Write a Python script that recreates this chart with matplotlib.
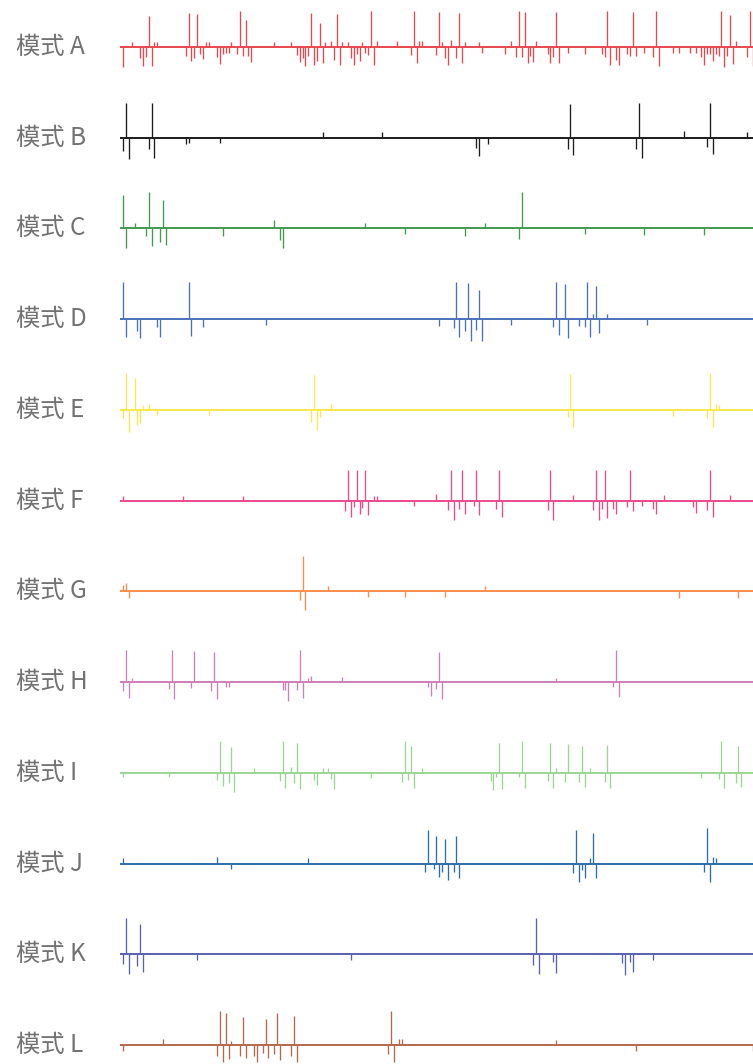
import matplotlib
matplotlib.use("Agg")
import matplotlib.pyplot as plt

plt.rcParams["font.family"] = ["Noto Sans CJK SC", "DejaVu Sans"]

# 每个模式: (时间步, 幅值)，正值向上，负值向下
A = [(0, -60), (3, 16), (6, -35), (7, -58), (8, -29), (9, 96), (10, -58), (11, 16), (12, 16),
     (22, -28), (23, 104), (24, -44), (25, -35), (26, 101), (27, -20), (28, -38), (29, 16), (30, 16),
     (33, -30), (34, -53), (35, -20), (36, -17), (37, -17), (38, 16), (40, -22), (41, 110), (42, -27),
     (43, 83), (44, -28), (45, -45), (53, 16), (59, 16), (61, -25), (62, -47), (63, -35), (64, -57),
     (65, -26), (66, 104), (67, -54), (68, -42), (69, 74), (70, -50), (71, 16), (73, 18), (74, -39),
     (75, 101), (76, -55), (77, 16), (79, 16), (80, -34), (81, -56), (82, -22), (83, -44), (84, 16),
     (85, -17), (86, -25), (87, 110), (88, -56), (89, 18), (96, 18), (101, -25), (102, 110), (103, -50),
     (104, 18), (105, 18), (110, -25), (111, 107), (112, 16), (113, -33), (114, -55), (115, 21),
     (117, -35), (118, 104), (119, -48), (120, 16), (125, 16), (126, -17), (134, -22), (136, 18),
     (138, -32), (139, 110), (140, -30), (141, 107), (142, -50), (143, -27), (144, -47), (145, 18),
     (149, -22), (150, -50), (151, -32), (152, 107), (153, -48), (156, -17), (162, -22), (168, -20),
     (169, -32), (170, 110), (171, -56), (173, -40), (174, -56), (177, -20), (178, -27), (179, 107),
     (180, -27), (183, -17), (186, -30), (187, 110), (188, -58), (193, -17), (195, -17), (199, -17),
     (201, -17), (203, -32), (204, -55), (205, -20), (206, -20), (207, -44), (208, -20), (209, -27),
     (210, 110), (211, -62), (212, -27), (213, 99), (214, -52), (215, 18), (219, -32), (220, 110),
     (221, -58)]
B = [(0, -41), (1, 107), (2, -66), (9, -35), (10, 107), (11, -62), (22, -19), (23, -17), (34, -17),
     (70, 16), (91, 16), (124, -32), (125, -57), (128, -19), (156, -35), (157, 104), (158, -54),
     (180, -35), (181, 107), (182, -62), (197, 21), (205, -29), (206, 107), (207, -51), (219, 18)]
C = [(0, 101), (1, -59), (4, 16), (8, -24), (9, 110), (10, -53), (13, -41), (14, 86), (15, -51),
     (35, -24), (53, 27), (55, -36), (56, -61), (85, 16), (99, -17), (120, -23), (127, 16),
     (139, -33), (140, 110), (162, -17), (183, -20), (204, -20)]
D = [(0, 114), (1, -53), (5, -37), (6, -58), (12, -23), (13, -53), (23, 114), (24, -50), (28, -23),
     (50, -18), (111, -21), (116, -27), (117, 114), (118, -53), (120, -35), (121, 111), (122, -65),
     (124, -33), (125, 89), (126, -65), (136, -18), (151, -23), (152, 114), (153, -47), (155, 108),
     (156, -58), (160, -21), (162, -23), (163, 114), (164, -55), (165, 17), (166, 102), (167, -41),
     (170, 15), (184, -18)]
E = [(0, -24), (1, 114), (2, -66), (4, 96), (5, -46), (6, -41), (7, 16), (9, 19), (12, -16),
     (30, -16), (66, -36), (67, 108), (68, -60), (69, -22), (73, 19), (156, -22), (157, 111),
     (158, -52), (193, -20), (205, -24), (206, 114), (207, -52), (208, 18), (209, 16)]
F = [(0, 13), (21, 13), (42, 13), (78, -33), (79, 95), (80, -51), (81, -18), (82, 95), (83, -41),
     (84, -21), (85, 95), (86, -43), (88, 13), (89, 13), (102, -15), (110, 19), (114, -29), (115, 95),
     (116, -58), (118, -24), (119, 95), (120, -41), (123, -17), (124, 95), (125, -43), (131, -24),
     (132, 95), (133, -51), (149, -27), (150, 95), (151, -58), (158, 17), (165, -29), (166, 95),
     (167, -58), (168, -24), (169, 95), (170, -53), (172, -24), (173, -41), (177, -20), (178, 95),
     (179, -33), (182, -15), (186, -24), (187, -41), (190, 17), (200, -20), (201, -39), (205, -27),
     (206, 95), (207, -51), (213, 17)]
G = [(0, 19), (1, 25), (2, -19), (62, -27), (63, 109), (64, -58), (72, 15), (86, -16), (99, -16),
     (113, -16), (127, 15), (195, -19), (216, -19)]
H = [(0, -27), (1, 97), (2, -48), (3, 14), (16, -22), (17, 97), (18, -51), (24, -19), (25, 94),
     (31, -27), (32, 92), (33, -53), (36, -14), (37, -16), (56, -25), (57, -25), (58, -58), (61, -24),
     (62, 97), (63, -48), (65, 14), (66, 18), (77, 16), (107, -16), (108, -43), (110, -22), (111, 92),
     (112, -51), (152, 14), (172, -16), (173, 97), (174, -46)]
I = [(0, -14), (16, -14), (33, -22), (34, 97), (35, -40), (37, -30), (38, 78), (39, -58), (46, 14),
     (55, -24), (56, 97), (57, -45), (59, 18), (60, -30), (61, 90), (62, -48), (67, -22), (68, -37),
     (70, 14), (72, 14), (73, -19), (74, -50), (87, -17), (98, -27), (99, 97), (100, -22), (101, 81),
     (102, -45), (105, 16), (129, -24), (130, -53), (131, -14), (132, 92), (133, -48), (139, -14),
     (140, 97), (141, -45), (149, -24), (150, 92), (151, -45), (152, 14), (155, -27), (156, 87),
     (160, -29), (161, 81), (162, -43), (164, 16), (169, -29), (170, 85), (171, -45), (203, -17),
     (209, -19), (210, 97), (211, -45), (215, -30), (216, 81), (217, -43)]
J = [(0, 16), (33, 19), (38, -17), (65, 16), (106, -25), (107, 102), (109, -17), (110, 85), (111, -42),
     (112, -25), (113, 74), (114, -50), (116, -25), (117, 83), (118, -45), (158, -30), (159, 102),
     (160, -56), (161, -20), (162, -45), (164, 16), (165, 94), (166, -45), (204, -25), (205, 110),
     (206, -56), (207, 19), (208, 16)]
K = [(0, -31), (1, 110), (2, -59), (5, -37), (6, 91), (7, -54), (26, -18), (80, -16), (144, -32),
     (145, 110), (146, -59), (151, -25), (152, -57), (175, -27), (176, -64), (178, -25), (179, -54),
     (186, -16)]
L = [(0, -18), (14, 17), (33, -33), (34, 104), (35, -53), (36, 97), (37, -43), (38, 12), (41, -33),
     (42, 85), (43, -41), (46, -33), (47, -53), (49, -23), (50, 80), (51, -41), (53, -26), (54, 98),
     (55, -47), (59, -33), (60, 88), (61, -53), (93, -26), (94, 104), (95, -53), (97, 19), (98, 17),
     (152, 14), (180, -18), (221, -18)]

names = ["A", "B", "C", "D", "E", "F", "G", "H", "I", "J", "K", "L"]
series = [A, B, C, D, E, F, G, H, I, J, K, L]
colors = ["#e8474e", "#1c1c1c", "#419a50", "#4a72b8", "#f6e94a", "#ea4a8c",
          "#fa8d4c", "#cc80b9", "#9bd593", "#2f6da8", "#5961b0", "#b4684c"]

W, H_ = 753, 1064
fig = plt.figure(figsize=(W / 100, H_ / 100), dpi=100)

x0, x1 = 120, 753          # 轴线横向范围（像素）
first, gap = 47, 90.73     # 第一条基线位置和行距
half = 45                  # 每行上下半高（像素）
unit = 3.05                # 每像素的幅值单位

for k, (name, data, c) in enumerate(zip(names, series, colors)):
    base = first + gap * k
    ax = fig.add_axes([x0 / W, (H_ - base - half) / H_, (x1 - x0) / W, 2 * half / H_])
    ax.set_xlim(-1.09, 221.1)
    ax.set_ylim(-half * unit, half * unit)
    ax.axis("off")
    xs = [p for p, _ in data]
    vs = [v for _, v in data]
    ax.axhline(0, color=c, lw=1.4, zorder=3)
    ax.vlines(xs, 0, vs, color=c, lw=0.95, zorder=2)
    fig.text(16 / W, 1 - base / H_, "模式 " + name, ha="left", va="center",
             fontsize=17.5, color="#727272", fontweight="light")

fig.savefig("out.png", dpi=100)
